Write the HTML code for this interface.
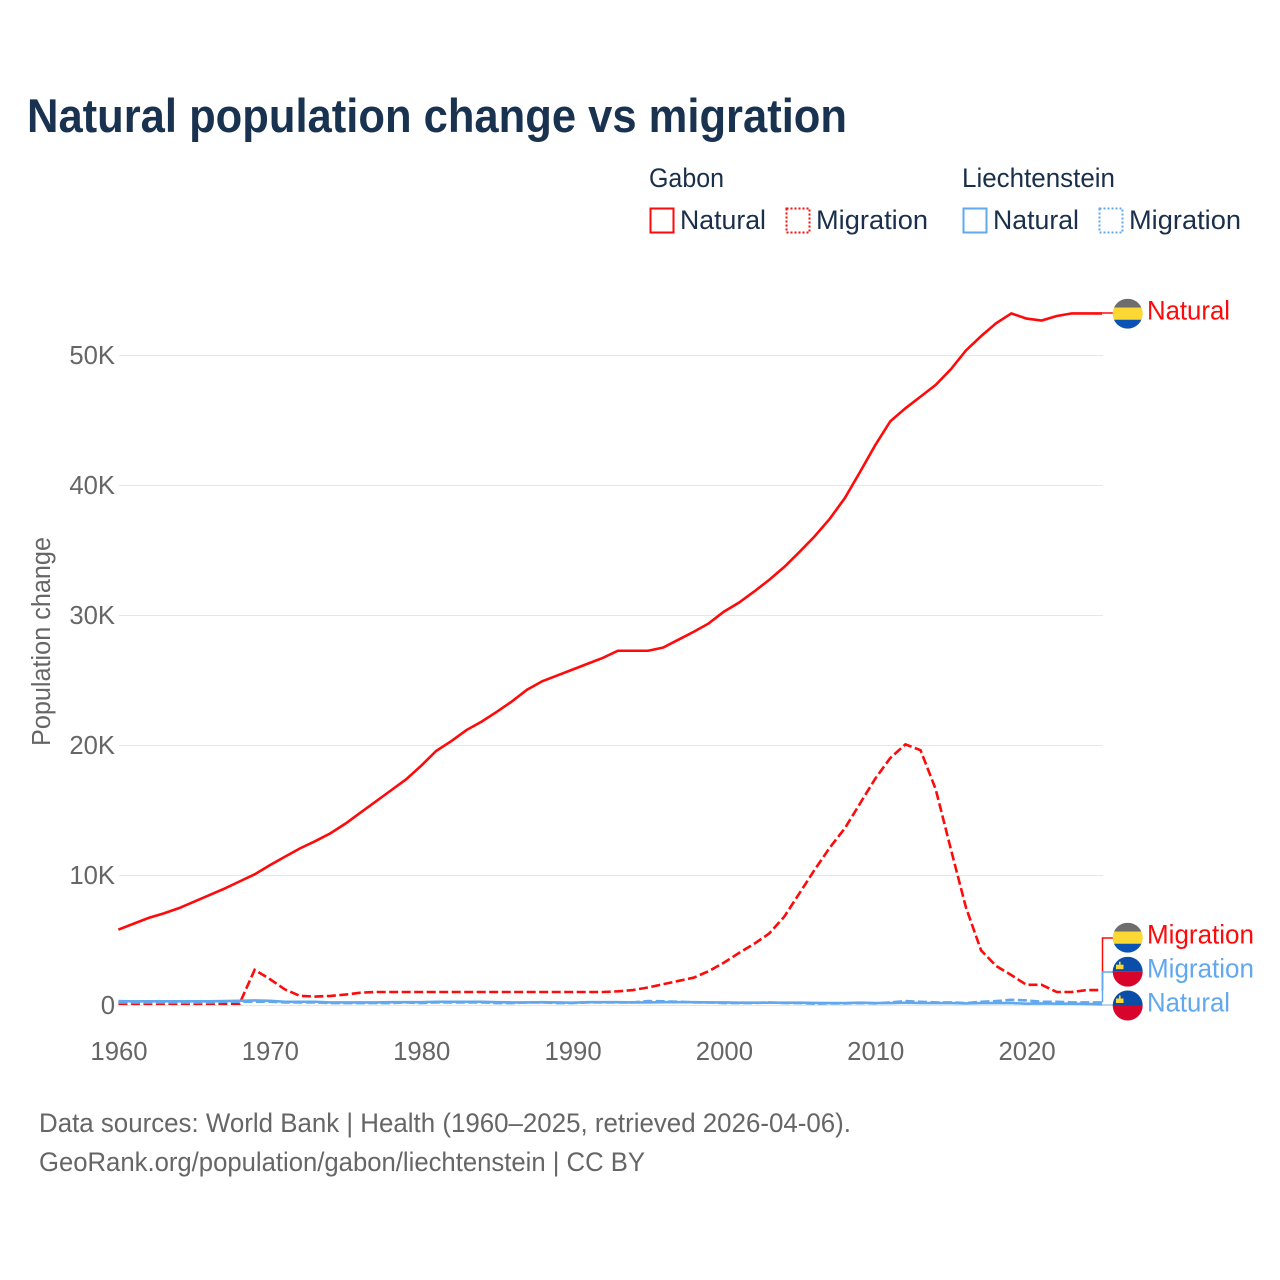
<!DOCTYPE html>
<html>
<head>
<meta charset="utf-8">
<title>Natural population change vs migration</title>
<style>
html,body{margin:0;padding:0;background:#fff;}
svg{display:block;font-family:"Liberation Sans",sans-serif;}
</style>
</head>
<body>
<svg id="chart" width="1280" height="1280" viewBox="0 0 1280 1280" xmlns="http://www.w3.org/2000/svg">
<rect width="1280" height="1280" fill="#fff"/>
<text x="27" y="132" font-size="47" font-weight="700" fill="#18324f" textLength="820" lengthAdjust="spacingAndGlyphs">Natural population change vs migration</text>

<g>
<text x="649" y="187" font-size="26.5" fill="#1a2f4b" textLength="75" lengthAdjust="spacingAndGlyphs">Gabon</text>
<text x="962" y="187" font-size="26.5" fill="#1a2f4b" textLength="153" lengthAdjust="spacingAndGlyphs">Liechtenstein</text>
<rect x="650.5" y="208.5" width="23" height="24" fill="none" stroke="#ff0a0a" stroke-width="2"/>
<text x="680" y="229" font-size="26.5" fill="#1a2f4b" textLength="86" lengthAdjust="spacingAndGlyphs">Natural</text>
<rect x="786.5" y="208.5" width="23" height="24" fill="none" stroke="#ff0a0a" stroke-width="2" stroke-dasharray="2 2"/>
<text x="816" y="229" font-size="26.5" fill="#1a2f4b" textLength="112" lengthAdjust="spacingAndGlyphs">Migration</text>
<rect x="963.5" y="208.5" width="23" height="24" fill="none" stroke="#62a8ee" stroke-width="2"/>
<text x="993" y="229" font-size="26.5" fill="#1a2f4b" textLength="86" lengthAdjust="spacingAndGlyphs">Natural</text>
<rect x="1099.5" y="208.5" width="23" height="24" fill="none" stroke="#62a8ee" stroke-width="2" stroke-dasharray="2 2"/>
<text x="1129" y="229" font-size="26.5" fill="#1a2f4b" textLength="112" lengthAdjust="spacingAndGlyphs">Migration</text>
</g>

<g id="grid"></g>
<g id="yticks"></g>
<g id="xticks"></g>
<text transform="translate(50,746) rotate(-90)" font-size="25.5" fill="#666" textLength="209" lengthAdjust="spacingAndGlyphs">Population change</text>
<g id="series"></g>
<g id="labels"></g>

<text x="39" y="1132" font-size="26.5" fill="#666" textLength="812" lengthAdjust="spacingAndGlyphs">Data sources: World Bank | Health (1960–2025, retrieved 2026-04-06).</text>
<text x="39" y="1171" font-size="26.5" fill="#666" textLength="606" lengthAdjust="spacingAndGlyphs">GeoRank.org/population/gabon/liechtenstein | CC BY</text>
</svg>
<script>
var startYear = 1960;
var xTickYears = [1960, 1970, 1980, 1990, 2000, 2010, 2020];
var yTickValues = [0, 10, 20, 30, 40, 50];
var yTickLabels = ['0', '10K', '20K', '30K', '40K', '50K'];
var gabonNatural = [5.8,6.25,6.7,7.05,7.45,7.95,8.45,8.95,9.5,10.05,10.75,11.4,12.05,12.6,13.2,13.95,14.8,15.65,16.5,17.35,18.4,19.55,20.3,21.15,21.8,22.55,23.35,24.25,24.9,25.35,25.8,26.25,26.7,27.25,27.25,27.25,27.5,28.1,28.7,29.35,30.25,30.95,31.8,32.7,33.7,34.85,36.05,37.4,39.0,41.0,43.05,44.9,45.9,46.8,47.7,48.9,50.35,51.45,52.45,53.2,52.8,52.65,53.0,53.2,53.2,53.2];
var gabonMigration = [0.1,0.1,0.1,0.1,0.1,0.1,0.1,0.1,0.1,2.7,2.0,1.2,0.7,0.65,0.7,0.8,0.95,1.0,1.0,1.0,1.0,1.0,1.0,1.0,1.0,1.0,1.0,1.0,1.0,1.0,1.0,1.0,1.0,1.05,1.15,1.35,1.6,1.85,2.1,2.6,3.25,4.0,4.7,5.5,6.8,8.6,10.4,12.1,13.6,15.5,17.4,19.0,20.05,19.6,16.6,12.0,7.5,4.2,3.0,2.3,1.55,1.55,1.0,1.0,1.15,1.15];
var liechNatural = [0.3,0.28,0.28,0.28,0.28,0.28,0.28,0.3,0.32,0.35,0.32,0.25,0.25,0.25,0.2,0.2,0.2,0.2,0.22,0.22,0.22,0.25,0.25,0.25,0.25,0.22,0.2,0.2,0.22,0.2,0.18,0.22,0.22,0.22,0.2,0.2,0.22,0.22,0.22,0.2,0.2,0.18,0.18,0.18,0.18,0.18,0.16,0.15,0.15,0.18,0.15,0.15,0.18,0.15,0.15,0.15,0.12,0.15,0.15,0.15,0.1,0.12,0.1,0.1,0.08,0.05];
var liechMigration = [0.2,0.2,0.2,0.2,0.2,0.2,0.2,0.25,0.25,0.25,0.25,0.2,0.2,0.2,0.15,0.15,0.15,0.15,0.15,0.2,0.15,0.2,0.2,0.2,0.2,0.15,0.15,0.2,0.2,0.15,0.15,0.2,0.2,0.2,0.2,0.3,0.28,0.25,0.2,0.2,0.15,0.15,0.15,0.2,0.15,0.15,0.1,0.12,0.12,0.15,0.12,0.2,0.3,0.25,0.2,0.2,0.15,0.25,0.3,0.4,0.35,0.25,0.25,0.2,0.2,0.2];

var NS = 'http://www.w3.org/2000/svg';
function xScale(year) { return 118.4 + (year - 1960) * 15.135; }
function yScale(k) { return 1005 - k * 13; }
function tickWidth(label) {
  var digits = label.replace('K', '').length;
  return digits * 14.3 + (label.indexOf('K') >= 0 ? 17 : 0);
}
function make(parent, tag, attrs, text) {
  var el = document.createElementNS(NS, tag);
  for (var k in attrs) el.setAttribute(k, attrs[k]);
  if (text !== undefined) el.textContent = text;
  parent.appendChild(el);
  return el;
}
var grid = document.getElementById('grid');
var yticks = document.getElementById('yticks');
var xticks = document.getElementById('xticks');
var seriesG = document.getElementById('series');
var labelsG = document.getElementById('labels');

yTickValues.forEach(function (v, i) {
  var line = make(grid, 'line', {x1: 119, x2: 1103, y1: yScale(v) + 0.5, y2: yScale(v) + 0.5, stroke: '#e6e6e6', 'stroke-width': 1});
  
  
  var w = tickWidth(yTickLabels[i]);
  var t = make(yticks, 'text', {x: 115 - w, y: yScale(v) + 9, 'font-size': 26, fill: '#666', textLength: w, lengthAdjust: 'spacingAndGlyphs'}, yTickLabels[i]);
  
  
});
xTickYears.forEach(function (year) {
  var label = String(year);
  var w = tickWidth(label);
  var t = make(xticks, 'text', {x: xScale(year) + 0.6 - w / 2, y: 1060, 'font-size': 26, fill: '#666', textLength: w, lengthAdjust: 'spacingAndGlyphs'}, label);
  
  
});
function pathOf(values) {
  return values.map(function (v, i) {
    return (i ? 'L' : 'M') + xScale(startYear + i).toFixed(2) + ' ' + yScale(v).toFixed(2);
  }).join('');
}
function lastY(values) { return yScale(values[values.length - 1]); }

var p1 = make(seriesG, 'path', {d: pathOf(gabonNatural), fill: 'none', stroke: '#ff0a0a', 'stroke-width': 2.6});


var p2 = make(seriesG, 'path', {d: pathOf(gabonMigration), fill: 'none', stroke: '#ff0a0a', 'stroke-width': 2.6, 'stroke-dasharray': '9 3.5'});


var p3 = make(seriesG, 'path', {d: pathOf(liechMigration), fill: 'none', stroke: '#62a8ee', 'stroke-width': 2.6, 'stroke-dasharray': '9 3.5'});


var p4 = make(seriesG, 'path', {d: pathOf(liechNatural), fill: 'none', stroke: '#62a8ee', 'stroke-width': 2.6});



function connector(endY, labelY, color) {
  var c = make(labelsG, 'path', {d: 'M1102.5 ' + endY.toFixed(1) + 'V' + labelY + 'H1114', fill: 'none', stroke: color, 'stroke-width': 1.5});
  
  
}
function gabonFlag(cy) {
  var id = 'clip' + cy;
  var cp = make(labelsG, 'clipPath', {id: id});
  make(cp, 'circle', {cx: 1127.7, cy: cy, r: 15});
  var g = make(labelsG, 'g', {'clip-path': 'url(#' + id + ')'});
  
  
  make(g, 'rect', {x: 1112, y: cy - 15, width: 32, height: 9, fill: '#6d6d6d'});
  make(g, 'rect', {x: 1112, y: cy - 6, width: 32, height: 12, fill: '#fdd835'});
  make(g, 'rect', {x: 1112, y: cy + 6, width: 32, height: 9, fill: '#0b52b5'});
}
function liechFlag(cy) {
  var id = 'clip' + cy;
  var cp = make(labelsG, 'clipPath', {id: id});
  make(cp, 'circle', {cx: 1127.7, cy: cy, r: 15});
  var g = make(labelsG, 'g', {'clip-path': 'url(#' + id + ')'});
  
  
  make(g, 'rect', {x: 1112, y: cy - 15, width: 32, height: 15, fill: '#0b4ea8'});
  make(g, 'rect', {x: 1112, y: cy, width: 32, height: 15, fill: '#d8042c'});
  make(g, 'rect', {x: 1116, y: cy - 7, width: 7.5, height: 4.5, fill: '#fdd835'});
  make(g, 'rect', {x: 1119, y: cy - 10, width: 1.6, height: 3, fill: '#fdd835'});
}
function endLabel(text, y, color, width) {
  var t = make(labelsG, 'text', {x: 1147, y: y, 'font-size': 26.5, fill: color, textLength: width, lengthAdjust: 'spacingAndGlyphs'}, text);
  
  
}
connector(lastY(gabonNatural), 313, '#ff0a0a');
connector(lastY(gabonMigration), 938, '#ff0a0a');
connector(lastY(liechMigration), 972, '#62a8ee');
connector(lastY(liechNatural), 1005, '#9fc6ee');
gabonFlag(313.7);
gabonFlag(937.7);
liechFlag(971.7);
liechFlag(1005.5);
endLabel('Natural', 319.5, '#ff0a0a', 83);
endLabel('Migration', 943.5, '#ff0a0a', 107);
endLabel('Migration', 977.5, '#62a8ee', 107);
endLabel('Natural', 1011.5, '#62a8ee', 83);
</script>
</body>
</html>
